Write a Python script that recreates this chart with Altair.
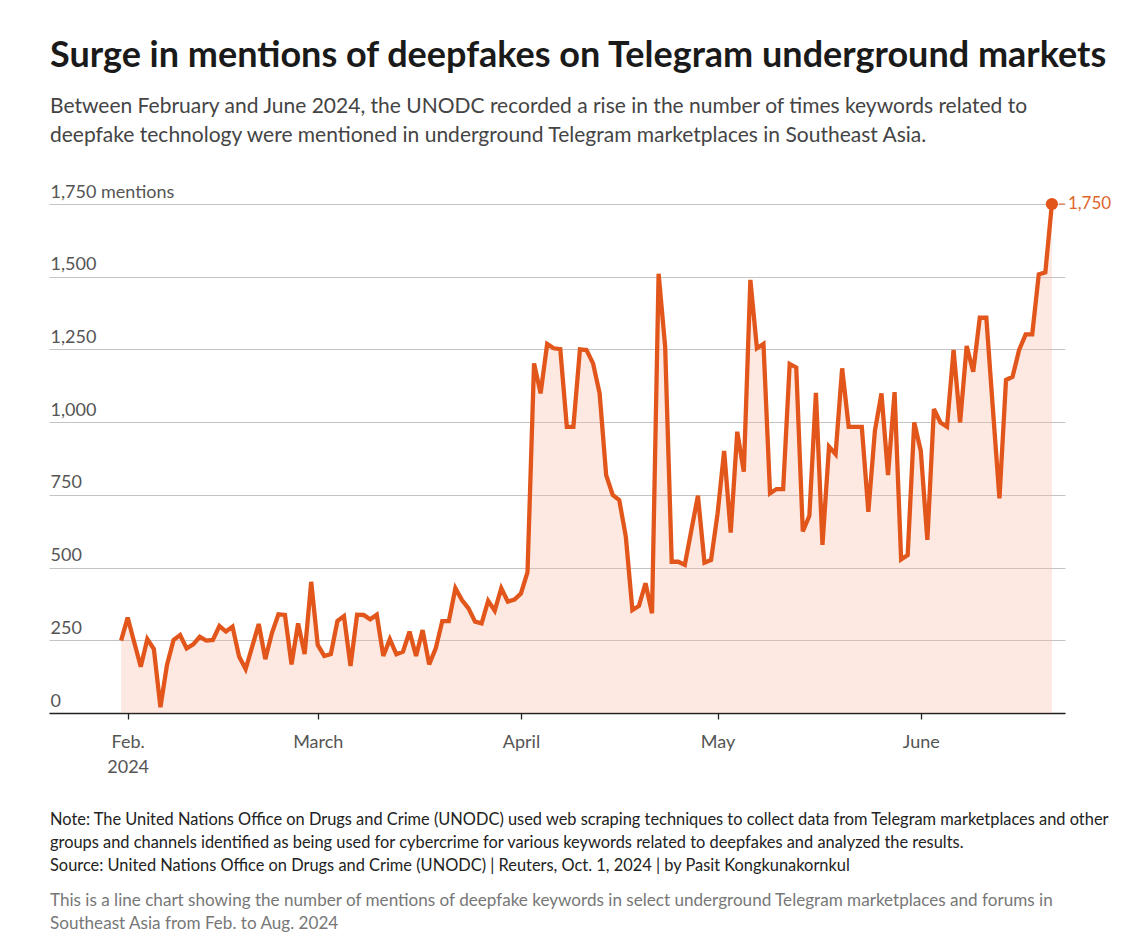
import altair as alt
import pandas as pd

# ---- data (daily mentions, Jan 31 – Jun 21, 2024) ----
start_date = "2024-01-31"
mentions = [
    249, 328, 243, 159, 254, 220, 20, 165, 251, 268,
    222, 236, 262, 249, 251, 299, 280, 297, 194, 151,
    228, 306, 185, 274, 339, 337, 167, 308, 203, 451,
    234, 196, 203, 316, 333, 162, 338, 337, 322, 338,
    196, 254, 202, 211, 280, 196, 285, 167, 222, 316,
    316, 429, 388, 360, 314, 308, 386, 352, 429, 383,
    390, 411, 484, 1202, 1099, 1269, 1254, 1251, 984, 984,
    1250, 1248, 1202, 1099, 818, 750, 732, 606, 354, 368,
    446, 343, 1510, 1260, 520, 520, 509, 629, 747, 517,
    526, 686, 901, 620, 967, 830, 1489, 1254, 1269, 755,
    770, 770, 1200, 1188, 624, 678, 1101, 578, 916, 890,
    1185, 984, 984, 984, 692, 970, 1099, 818, 1103, 528,
    543, 999, 901, 595, 1045, 999, 984, 1248, 999, 1262,
    1173, 1359, 1359, 1045, 738, 1145, 1156, 1248, 1302, 1302,
    1508, 1515, 1750,
]
dates = [d.strftime("%Y-%m-%dT00:00") for d in pd.date_range(start_date, periods=len(mentions), freq="D")]

y_ticks = [0, 250, 500, 750, 1000, 1250, 1500, 1750]
x_tick_months = [2, 3, 4, 5, 6]

TITLE = "Surge in mentions of deepfakes on Telegram underground markets"
SUBTITLE = [
    "Between February and June 2024, the UNODC recorded a rise in the number of times keywords related to",
    "deepfake technology were mentioned in underground Telegram marketplaces in Southeast Asia.",
]
NOTES = [
    "Note: The United Nations Office on Drugs and Crime (UNODC) used web scraping techniques to collect data from Telegram marketplaces and other",
    "groups and channels identified as being used for cybercrime for various keywords related to deepfakes and analyzed the results.",
    "Source: United Nations Office on Drugs and Crime (UNODC) | Reuters, Oct. 1, 2024 | by Pasit Kongkunakornkul",
]
DESCRIPTION = [
    "This is a line chart showing the number of mentions of deepfake keywords in select underground Telegram marketplaces and forums in",
    "Southeast Asia from Feb. to Aug. 2024",
]

df = pd.DataFrame({"date": dates, "mentions": mentions})
last_df = df.tail(1)

FONT = "Lato"
LINE = "#e2561b"
LABEL_ORANGE = "#e0652a"

x_scale = alt.Scale(domain=[alt.DateTime(year=2024, month=1, date=20),
                            alt.DateTime(year=2024, month=6, date=23)])
y_scale = alt.Scale(domain=[0, 1750], nice=False)

x_axis = alt.Axis(
    values=[alt.DateTime(year=2024, month=m, date=1) for m in x_tick_months],
    labelExpr="month(datum.value) == 1 ? ['Feb.', '2024'] : timeFormat(datum.value, '%B')",
    title=None, grid=False, domainColor="#222222", domainWidth=1.3,
    tickColor="#222222", tickSize=6, tickWidth=1.3, labelPadding=14,
    labelFont=FONT, labelFontSize=18, labelColor="#555555", labelLineHeight=25,
    labelFlush=False, labelOverlap=False,
)
y_axis = alt.Axis(
    values=y_ticks,
    labelExpr="datum.value == 1750 ? '1,750 mentions' : format(datum.value, ',')",
    title=None, domain=False, ticks=False, tickSize=0, grid=True,
    gridColor="#c4c4c4", gridWidth=1,
    labelAlign="left", labelBaseline="alphabetic", labelOffset=-7, labelPadding=-1,
    labelFont=FONT, labelFontSize=18, labelColor="#555555",
    labelFlush=False, labelOverlap=False,
)

base = alt.Chart(df)

area = base.mark_area(color="#f8b69e", opacity=0.3).encode(
    x=alt.X("date:T", scale=x_scale, axis=x_axis),
    y=alt.Y("mentions:Q", scale=y_scale, axis=y_axis),
)
line = base.mark_line(color=LINE, strokeWidth=4.3, strokeJoin="miter", strokeMiterLimit=3).encode(
    x="date:T", y="mentions:Q"
)
end_point = alt.Chart(last_df).mark_point(filled=True, size=150, color=LINE, opacity=1).encode(
    x="date:T", y="mentions:Q"
)
connector = alt.Chart(last_df).mark_rule(color=LABEL_ORANGE, strokeWidth=1, xOffset=7, x2Offset=13).encode(
    x="date:T", x2="date:T", y="mentions:Q"
)
end_label = alt.Chart(last_df).mark_text(
    align="left", baseline="middle", dx=16, font=FONT, fontSize=17, color=LABEL_ORANGE
).encode(x="date:T", y="mentions:Q", text=alt.Text("mentions:Q", format=","))

one = pd.DataFrame({"k": [0]})
title_t = alt.Chart(one).mark_text(
    align="left", baseline="alphabetic", font=FONT, fontSize=36, fontWeight="bold", color="#1a1a1a"
).encode(x=alt.value(1), y=alt.value(-137), text=alt.value(TITLE))
subtitle_t = alt.Chart(one).mark_text(
    align="left", baseline="alphabetic", font=FONT, fontSize=21, color="#444444", lineHeight=28.5
).encode(x=alt.value(1), y=alt.value(-91), text=alt.value(SUBTITLE))
notes_t = alt.Chart(one).mark_text(
    align="left", baseline="alphabetic", font=FONT, fontSize=16.4, color="#222222", lineHeight=23
).encode(x=alt.value(1), y=alt.value(620.5), text=alt.value(NOTES))
desc_t = alt.Chart(one).mark_text(
    align="left", baseline="alphabetic", font=FONT, fontSize=17.1, color="#777777", lineHeight=23
).encode(x=alt.value(1), y=alt.value(701.5), text=alt.value(DESCRIPTION))

chart = alt.layer(
    area, line, connector, end_point, end_label, title_t, subtitle_t, notes_t, desc_t
).properties(
    width=1016, height=509,
    autosize=alt.AutoSizeParams(type="none"),
    padding={"left": 49, "top": 204, "right": 82, "bottom": 234},
    background="white",
).configure_view(strokeWidth=0)

chart.save("out.html", embed_options={"renderer": "svg", "actions": False})
